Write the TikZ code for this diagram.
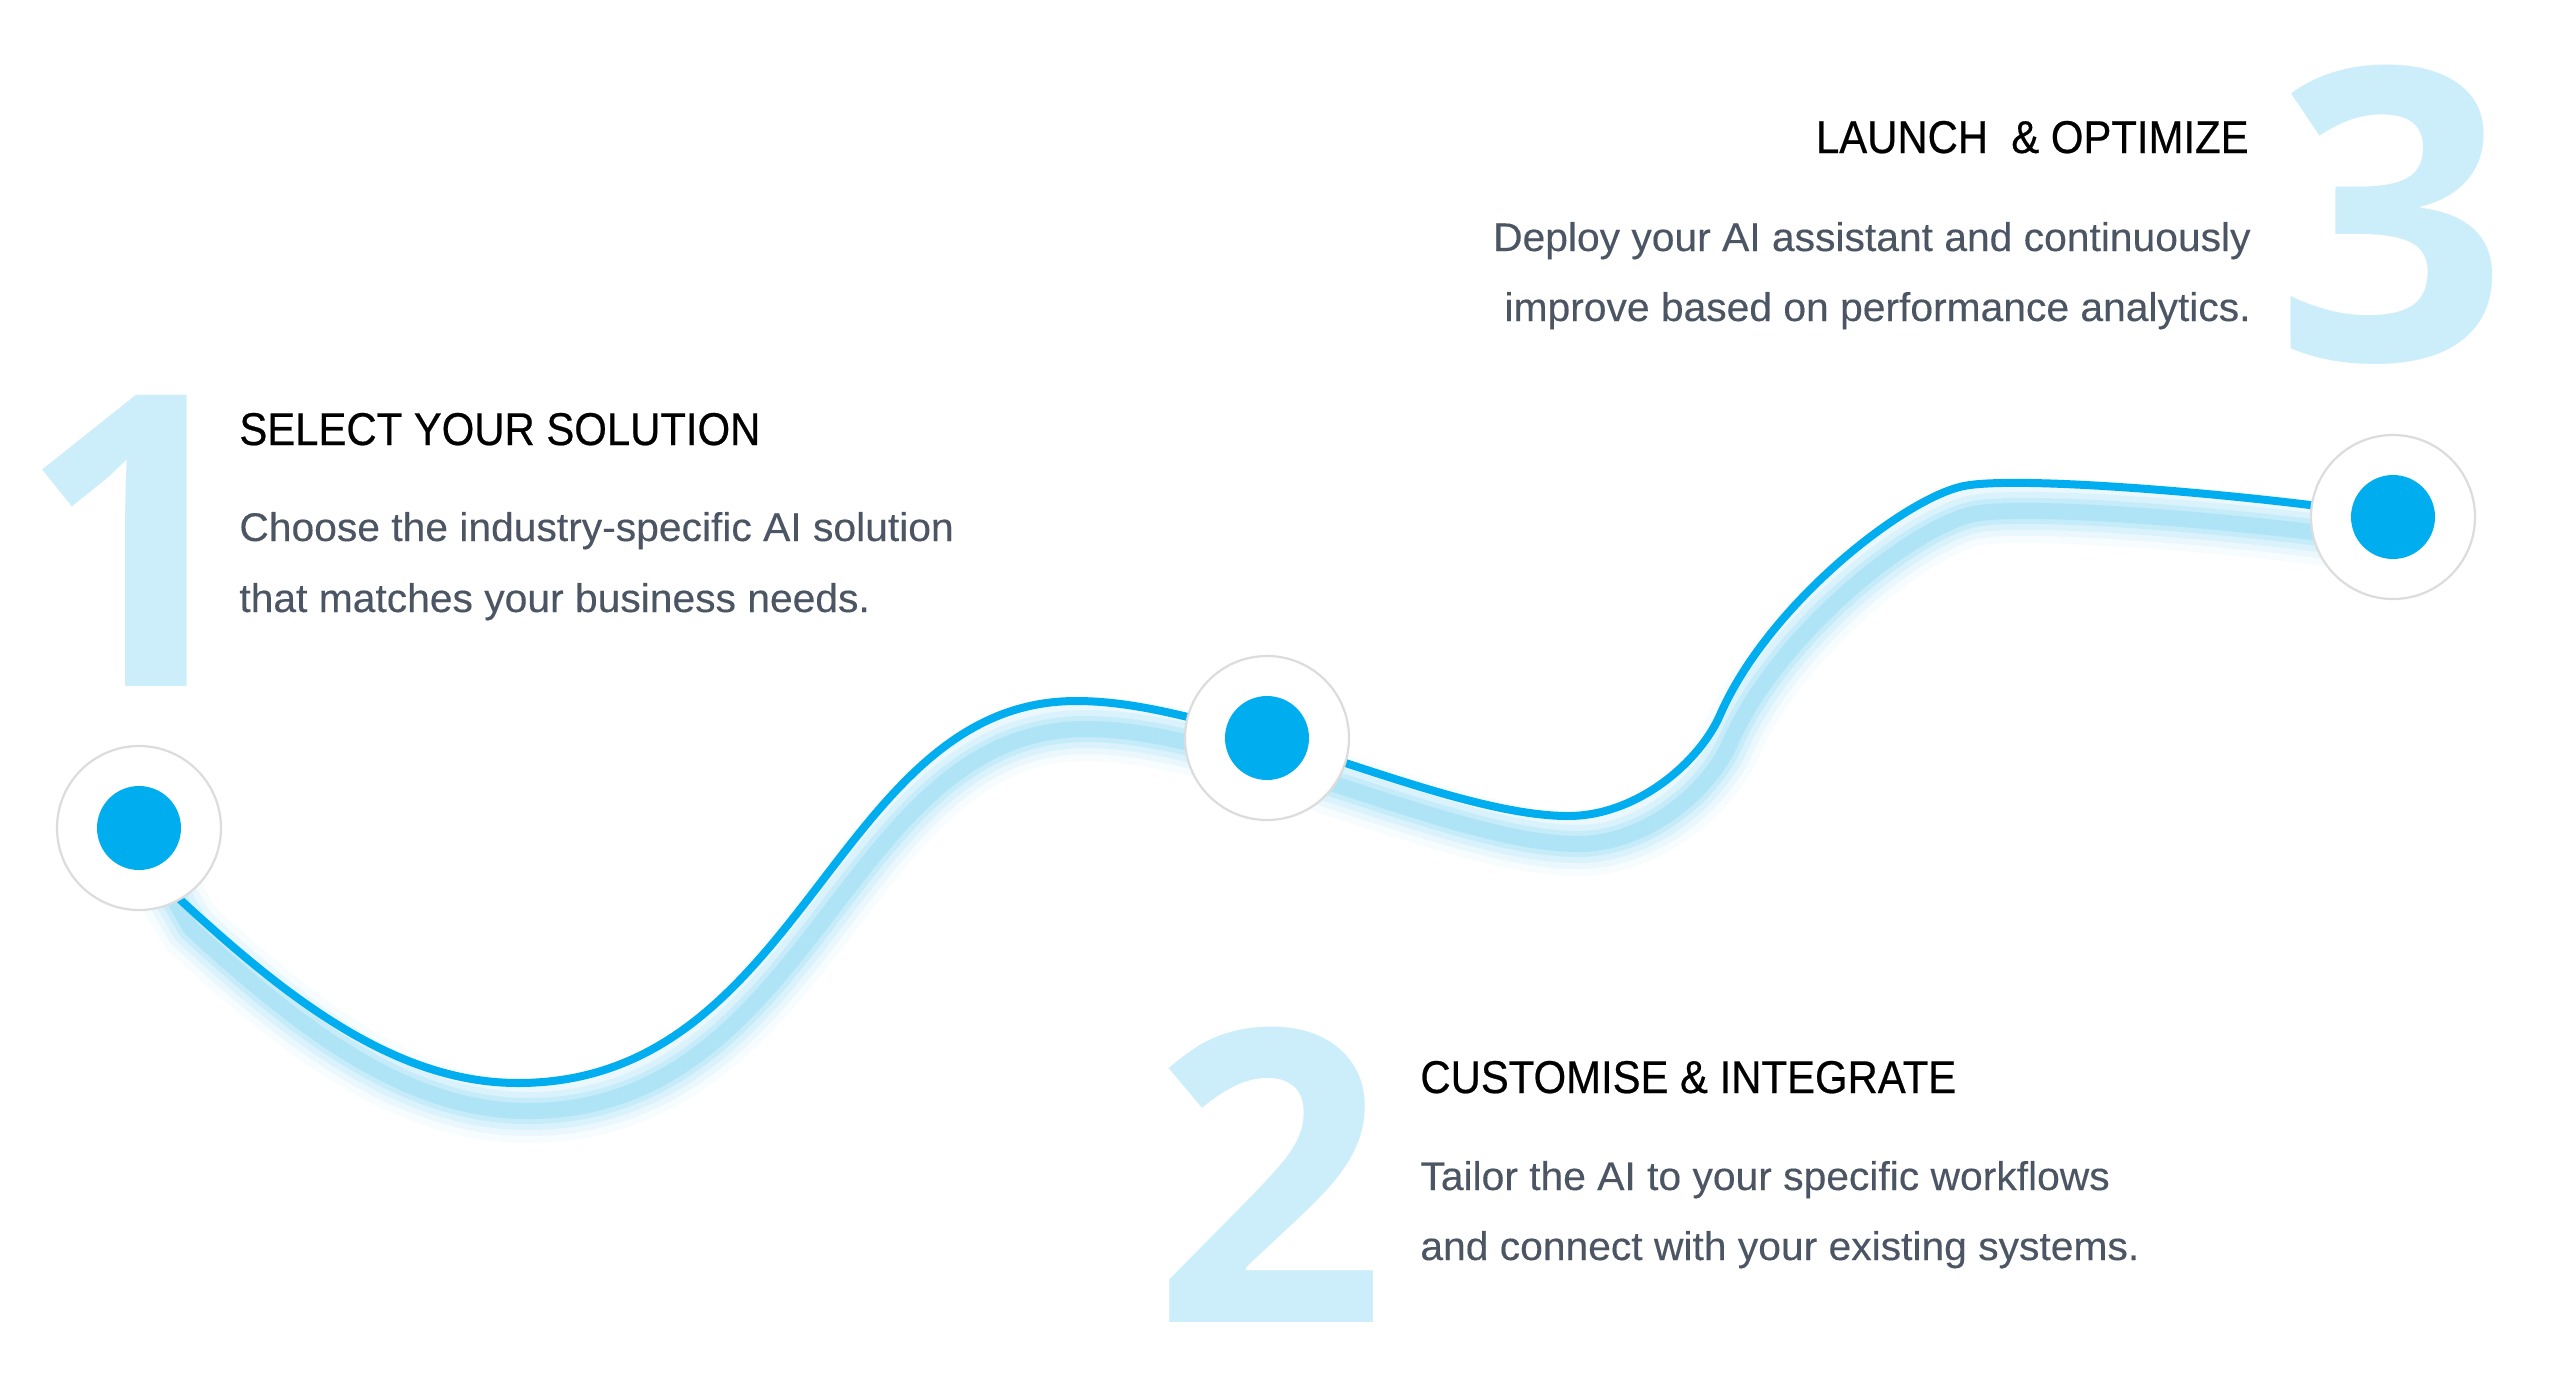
\documentclass[tikz,border=0pt]{standalone}
\usepackage{fontspec}
\setmainfont{Liberation Sans}
\newfontfamily\headfont[FakeStretch=0.91, FakeBold=0.5]{Liberation Sans}
\newfontfamily\bodyfont[FakeStretch=1.02, FakeBold=0.25]{Liberation Sans}
\newfontfamily\digitfont{Open Sans}
\definecolor{linecyan}{HTML}{00AEEF}
\definecolor{digitcyan}{HTML}{CCEEFA}
\definecolor{bodygray}{HTML}{4B5563}
\definecolor{ringgray}{HTML}{DCDCDC}
\definecolor{glowcyan}{HTML}{7FD6F5}
\pgfdeclarelayer{back}
\pgfdeclarelayer{glowlayer}
\pgfsetlayers{back,glowlayer,main}
\begin{document}
\begin{tikzpicture}[x=0.5pt, y=-0.5pt,
  head/.style={font=\headfont\fontsize{23}{27}\selectfont, text=black, inner sep=0pt},
  body/.style={font=\bodyfont\fontsize{20}{24}\selectfont, text=bodygray, inner sep=0pt},
  digit/.style={font=\digitfont\bfseries\fontsize{204}{204}\selectfont, text=digitcyan, inner sep=0pt, anchor=base},
  ring/.style={circle, fill=white, draw=ringgray, line width=1.1pt, minimum size=82pt, inner sep=0pt},
  dot/.style={circle, fill=linecyan, minimum size=42pt, inner sep=0pt},
  wave/.style={draw=linecyan, line width=4pt, line cap=round, line join=round},
  glowline/.style={draw=glowcyan, line cap=round, line join=round, transform canvas={xshift=5pt, yshift=-14pt}}]
\useasboundingbox (0,0) rectangle (2560,1377);

% background and big digits
\begin{pgfonlayer}{back}
\fill[white] (0,0) rectangle (2560,1377);
\node[digit] (d1) at (135,686) {1};
\node[digit] (d2) at (1270,1322) {2};
\node[digit] (d3) at (2392,360) {3};
\end{pgfonlayer}

% step circles
\node[ring] (ring1) at (139,828) {};
\node[dot] (dot1) at (ring1.center) {};
\node[ring] (ring2) at (1267,738) {};
\node[dot] (dot2) at (ring2.center) {};
\node[ring] (ring3) at (2393,517) {};
\node[dot] (dot3) at (ring3.center) {};

% wave with glow
\begin{pgfonlayer}{glowlayer}
\path[save path=\wavepath] (ring1.center) -- (ring1.-60)
  .. controls (291,1002) and (398,1083) .. (518,1083)
  .. controls (804,1083) and (834,701) .. (1076,701)
  .. controls (1136,701) and (1197,719) .. (ring2.center)
  .. controls (1367,768) and (1488,816) .. (1568,816)
  .. controls (1638,816) and (1700,761) .. (1720,715)
  .. controls (1768,605) and (1904,498) .. (1964,486)
  .. controls (2024,474) and (2293,499) .. (ring3.center);
\path[glowline, line width=32pt, opacity=0.06, use path=\wavepath];
\path[glowline, line width=25pt, opacity=0.10, use path=\wavepath];
\path[glowline, line width=19pt, opacity=0.15, use path=\wavepath];
\path[glowline, line width=13pt, opacity=0.22, use path=\wavepath];
\path[glowline, line width=8pt, opacity=0.32, use path=\wavepath];
\path[wave, use path=\wavepath];
\end{pgfonlayer}

% step 1
\node[head, anchor=base west] (h1) at (239,445) {SELECT YOUR SOLUTION};
\node[body, anchor=base west] (b1a) at (239,541) {Choose the industry-specific AI solution};
\node[body, anchor=base west] (b1b) at (239,612) {that matches your business needs.};

% step 2
\node[head, anchor=base west] (h2) at (1420,1093) {CUSTOMISE \& INTEGRATE};
\node[body, anchor=base west] (b2a) at (1420,1190) {Tailor the AI to your specific workflows};
\node[body, anchor=base west] (b2b) at (1420,1260) {and connect with your existing systems.};

% step 3
\node[head, anchor=base east] (h3) at (2249,153) {LAUNCH\ \ \& OPTIMIZE};
\node[body, anchor=base east] (b3a) at (2251,251) {Deploy your AI assistant and continuously};
\node[body, anchor=base east] (b3b) at (2251,321) {improve based on performance analytics.};
\end{tikzpicture}
\end{document}
